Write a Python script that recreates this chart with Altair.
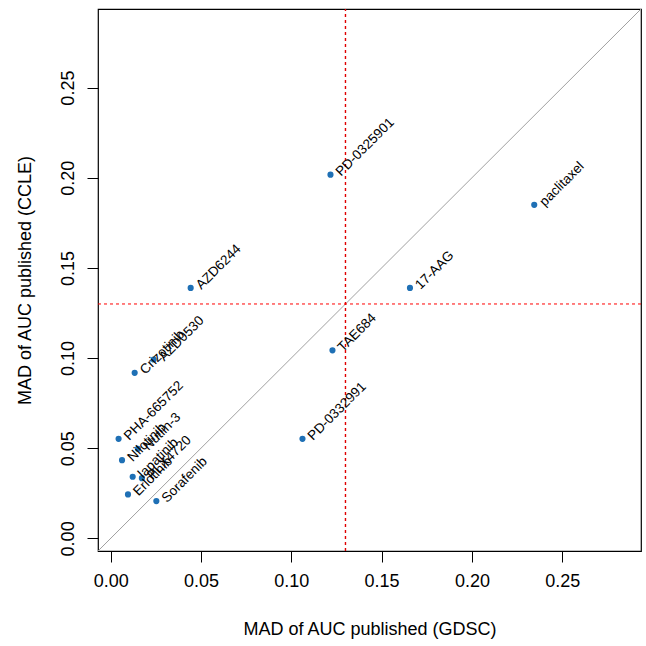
import altair as alt
import pandas as pd

# Per-drug spread of published AUC values in the two screens
drugs = ["paclitaxel", "PD-0325901", "AZD6244", "17-AAG", "TAE684", "PD-0332991",
         "AZD0530", "Crizotinib", "PHA-665752", "Nilotinib", "Nutlin-3",
         "lapatinib", "PLX4720", "Erlotinib", "Sorafenib"]
mad_gdsc = [0.2345, 0.1217, 0.0443, 0.1657, 0.1228, 0.1062,
            0.0238, 0.0133, 0.0044, 0.0063, 0.0151,
            0.0122, 0.0173, 0.0096, 0.0253]
mad_ccle = [0.1850, 0.2017, 0.1389, 0.1389, 0.1043, 0.0552,
            0.0992, 0.0918, 0.0552, 0.0434, 0.0497,
            0.0342, 0.0334, 0.0244, 0.0207]

cutoff = 0.13
axis_limits = [-0.007, 0.2936]
tick_values = [0.0, 0.05, 0.10, 0.15, 0.20, 0.25]

FONT = "Liberation Sans"

points = pd.DataFrame({"drug": drugs, "gdsc": mad_gdsc, "ccle": mad_ccle})
diag = pd.DataFrame({"gdsc": axis_limits, "ccle": axis_limits})
vcut = pd.DataFrame({"gdsc": [cutoff, cutoff], "ccle": axis_limits})
hcut = pd.DataFrame({"gdsc": axis_limits, "ccle": [cutoff, cutoff]})

xscale = alt.Scale(domain=axis_limits, nice=False, zero=False)
yscale = alt.Scale(domain=axis_limits, nice=False, zero=False)

xaxis = alt.Axis(values=tick_values, format=".2f", title="MAD of AUC published (GDSC)",
                 labelPadding=10, titlePadding=30)
yaxis = alt.Axis(values=tick_values, format=".2f", title="MAD of AUC published (CCLE)",
                 labelAngle=270, labelAlign="center", labelBaseline="bottom",
                 labelPadding=10, titlePadding=25)

x_enc = alt.X("gdsc:Q", scale=xscale, axis=xaxis)
y_enc = alt.Y("ccle:Q", scale=yscale, axis=yaxis)

diagonal = alt.Chart(diag).mark_line(stroke="#a0a0a0", strokeWidth=1, clip=True).encode(
    x=x_enc, y=y_enc
)

# cut-off guides drawn as short two-point lines
vline = alt.Chart(vcut).mark_line(stroke="#e00000", strokeDash=[3, 3], strokeWidth=1.4,
                                  clip=True).encode(x=x_enc, y=y_enc)
hline = alt.Chart(hcut).mark_line(stroke="#ff0000", strokeDash=[3, 3], strokeWidth=1,
                                  clip=True).encode(x=x_enc, y=y_enc)

dots = alt.Chart(points).mark_circle(size=38, color="#1f70b5", opacity=1).encode(
    x=x_enc, y=y_enc
)

labels = alt.Chart(points).mark_text(
    angle=315, align="left", baseline="middle", dx=6, dy=5,
    fontSize=13.5, font=FONT, color="black"
).encode(x=x_enc, y=y_enc, text="drug:N")

chart = alt.layer(diagonal, vline, hline, dots, labels).properties(
    width=543, height=542,
    autosize=alt.AutoSizeParams(type="none"),
    padding={"left": 98, "top": 9, "right": 5, "bottom": 95},
    background="white",
).configure_view(
    stroke="black", strokeWidth=1.2
).configure_axis(
    domain=False, grid=False, ticks=True, tickColor="black", tickSize=11, tickWidth=1,
    labelFont=FONT, titleFont=FONT, labelFontSize=18, titleFontSize=18,
    labelColor="black", titleColor="black", titleFontWeight="normal"
)

chart.save("out.html", embed_options={"renderer": "svg", "actions": False})
